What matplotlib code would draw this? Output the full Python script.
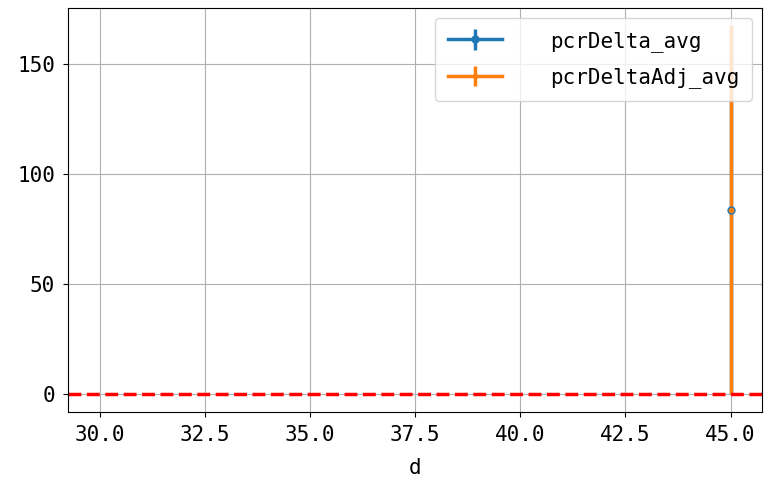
import numpy as np
import matplotlib
matplotlib.use('Agg')
import matplotlib.pyplot as plt
from matplotlib.ticker import MultipleLocator
plt.rcParams['font.family'] = ['DejaVu Sans Mono', 'Noto Sans CJK SC']
plt.rcParams['axes.unicode_minus'] = False

# data
d = [45.0]
pcr_delta_avg = [83.5]
pcr_delta_err = [83.5]
pcr_delta_adj_avg = [83.5]
pcr_delta_adj_err = [83.5]

fig, ax = plt.subplots(figsize=(7.66, 4.84), dpi=100)
fig.subplots_adjust(left=0.089, right=0.995, top=0.984, bottom=0.149)

ax.errorbar(d, pcr_delta_avg, yerr=pcr_delta_err, fmt='-o', ms=5,
            lw=2.5, elinewidth=2.5, color='#1f77b4', label='pcrDelta_avg')
ax.errorbar(d, pcr_delta_adj_avg, yerr=pcr_delta_adj_err, marker='.', ms=6,
            linestyle='-', lw=2.5, elinewidth=2.5, color='#ff7f0e',
            label='pcrDeltaAdj_avg')
ax.axhline(0, color='red', linestyle='--', linewidth=2.5)

ax.set_xlim(29.25, 45.75)
ax.xaxis.set_major_locator(MultipleLocator(2.5))
ax.yaxis.set_major_locator(MultipleLocator(50))
ax.set_xlabel('d', fontsize=15, labelpad=9)
ax.tick_params(labelsize=15, pad=6)
ax.grid(True)
ax.legend(loc='upper right', fontsize=15, handlelength=2.6, handletextpad=2.3,
          labelspacing=0.75, borderpad=0.6)

plt.savefig('out.png', dpi=100)
